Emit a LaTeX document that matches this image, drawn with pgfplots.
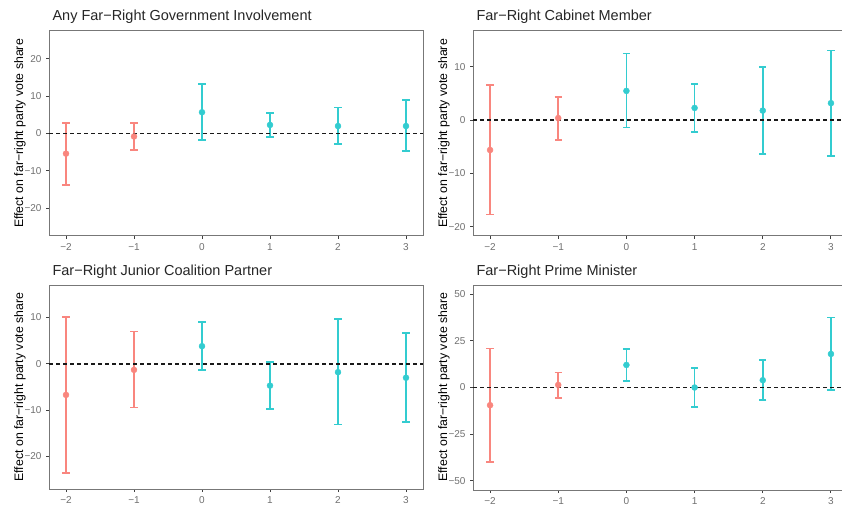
\documentclass[border=0pt]{standalone}
\usepackage{fontspec}
\setmainfont{Liberation Sans}
\usepackage{pgfplots}
\pgfplotsset{compat=1.18}
\usepackage{pgfplotstable}
\definecolor{ggred}{HTML}{F8766D}
\definecolor{ggteal}{HTML}{00BFC4}
\colorlet{cred}{ggred!88!white}
\colorlet{cteal}{ggteal!80!white}
\definecolor{framec}{HTML}{777777}
\definecolor{tickc}{HTML}{707070}

% x  y  lo  hi
\pgfplotstableread{
x y lo hi
-2 -5.4 -13.8 2.9
-1 -0.8 -4.4 2.8
}\Ared
\pgfplotstableread{
x y lo hi
0 5.7 -1.7 13.2
1 2.3 -1.0 5.5
2 2.0 -2.8 7.0
3 2.0 -4.7 9.0
}\Ateal
\pgfplotstableread{
x y lo hi
-2 -5.6 -17.7 6.6
-1 0.4 -3.7 4.4
}\Bred
\pgfplotstableread{
x y lo hi
0 5.5 -1.4 12.5
1 2.3 -2.2 6.8
2 1.8 -6.4 10.0
3 3.2 -6.7 13.1
}\Bteal
\pgfplotstableread{
x y lo hi
-2 -6.7 -23.5 10.1
-1 -1.3 -9.4 7.0
}\Cred
\pgfplotstableread{
x y lo hi
0 3.8 -1.4 9.0
1 -4.7 -9.8 0.4
2 -1.8 -13.1 9.6
3 -3.0 -12.5 6.6
}\Cteal
\pgfplotstableread{
x y lo hi
-2 -9.5 -40.0 21.0
-1 1.4 -5.5 8.1
}\Dred
\pgfplotstableread{
x y lo hi
0 12.1 3.4 20.7
1 0.0 -10.4 10.4
2 3.9 -6.8 14.8
3 18.0 -1.4 37.6
}\Dteal

\pgfplotsset{
  panel/.style={
    scale only axis, anchor=south west,
    xmin=-2.25, xmax=3.25,
    xtick={-2,-1,0,1,2,3}, xticklabels={−2,−1,0,1,2,3},
    tick align=outside, tick pos=left,
    major tick length=3pt,
    axis line style={framec, line width=1pt},
    every tick/.style={black!75, line width=1pt},
    tick label style={font=\fontsize{10}{10}\selectfont, text=tickc},
    xticklabel style={yshift=-1pt},
    yticklabel style={xshift=-1pt},
    clip=true,
  },
  ebar/.style={only marks, mark=*, mark size=3pt,
    error bars/.cd, y dir=both, y explicit,
    error mark=|,
    error bar style={line width=1.7pt},
    error mark options={line width=1.7pt, mark size=3.6pt}},
  zero/.style={black!90, dash pattern=on 4pt off 3pt, line width=1.8pt, no marks},
}
\newcommand{\ebplot}[2]{%
  \addplot[#1, ebar] table[x=x, y=y,
    y error plus expr=\thisrow{hi}-\thisrow{y},
    y error minus expr=\thisrow{y}-\thisrow{lo}] {#2};}

\begin{document}
\begin{tikzpicture}
\tikzset{ttl/.style={anchor=base west, font=\fontsize{14.5}{16}\selectfont, text=black!85},
         ylab/.style={rotate=90, anchor=center, font=\fontsize{12.3}{14}\selectfont, text=black}}

% Panel A
\begin{axis}[panel, at={(49pt,270pt)}, width=374pt, height=205pt,
  ymin=-27.5, ymax=27.5, ytick={-20,-10,0,10,20}, yticklabels={−20,−10,0,10,20}]
  \ebplot{cred}{\Ared}
  \ebplot{cteal}{\Ateal}
  \addplot[zero] coordinates {(-2.25,0) (3.25,0)};
\end{axis}
% Panel B
\begin{axis}[panel, at={(473pt,270pt)}, width=375pt, height=205pt,
  ymin=-21.75, ymax=16.75, ytick={-20,-10,0,10}, yticklabels={−20,−10,0,10}]
  \ebplot{cred}{\Bred}
  \ebplot{cteal}{\Bteal}
  \addplot[zero] coordinates {(-2.25,0) (3.25,0)};
\end{axis}
% Panel C
\begin{axis}[panel, at={(49pt,17pt)}, width=374pt, height=204pt,
  ymin=-27, ymax=17, ytick={-20,-10,0,10}, yticklabels={−20,−10,0,10}]
  \ebplot{cred}{\Cred}
  \ebplot{cteal}{\Cteal}
  \addplot[zero] coordinates {(-2.25,0) (3.25,0)};
\end{axis}
% Panel D
\begin{axis}[panel, at={(473pt,16pt)}, width=375pt, height=205pt,
  ymin=-55, ymax=55, ytick={-50,-25,0,25,50}, yticklabels={−50,−25,0,25,50}]
  \ebplot{cred}{\Dred}
  \ebplot{cteal}{\Dteal}
  \addplot[zero] coordinates {(-2.25,0) (3.25,0)};
\end{axis}

\node[ttl] at (49pt,485.3pt) {Any Far−Right Government Involvement};
\node[ttl] at (473pt,485.3pt) {Far−Right Cabinet Member};
\node[ttl] at (49pt,230.3pt) {Far−Right Junior Coalition Partner};
\node[ttl] at (473pt,230.3pt) {Far−Right Prime Minister};

\node[ylab] at (20pt,372.5pt) {Effect on far−right party vote share};
\node[ylab] at (444pt,372.5pt) {Effect on far−right party vote share};
\node[ylab] at (20pt,119pt) {Effect on far−right party vote share};
\node[ylab] at (444pt,119pt) {Effect on far−right party vote share};

\pgfresetboundingbox
\useasboundingbox (0pt,0pt) rectangle (842pt,506pt);
\end{tikzpicture}
\end{document}
